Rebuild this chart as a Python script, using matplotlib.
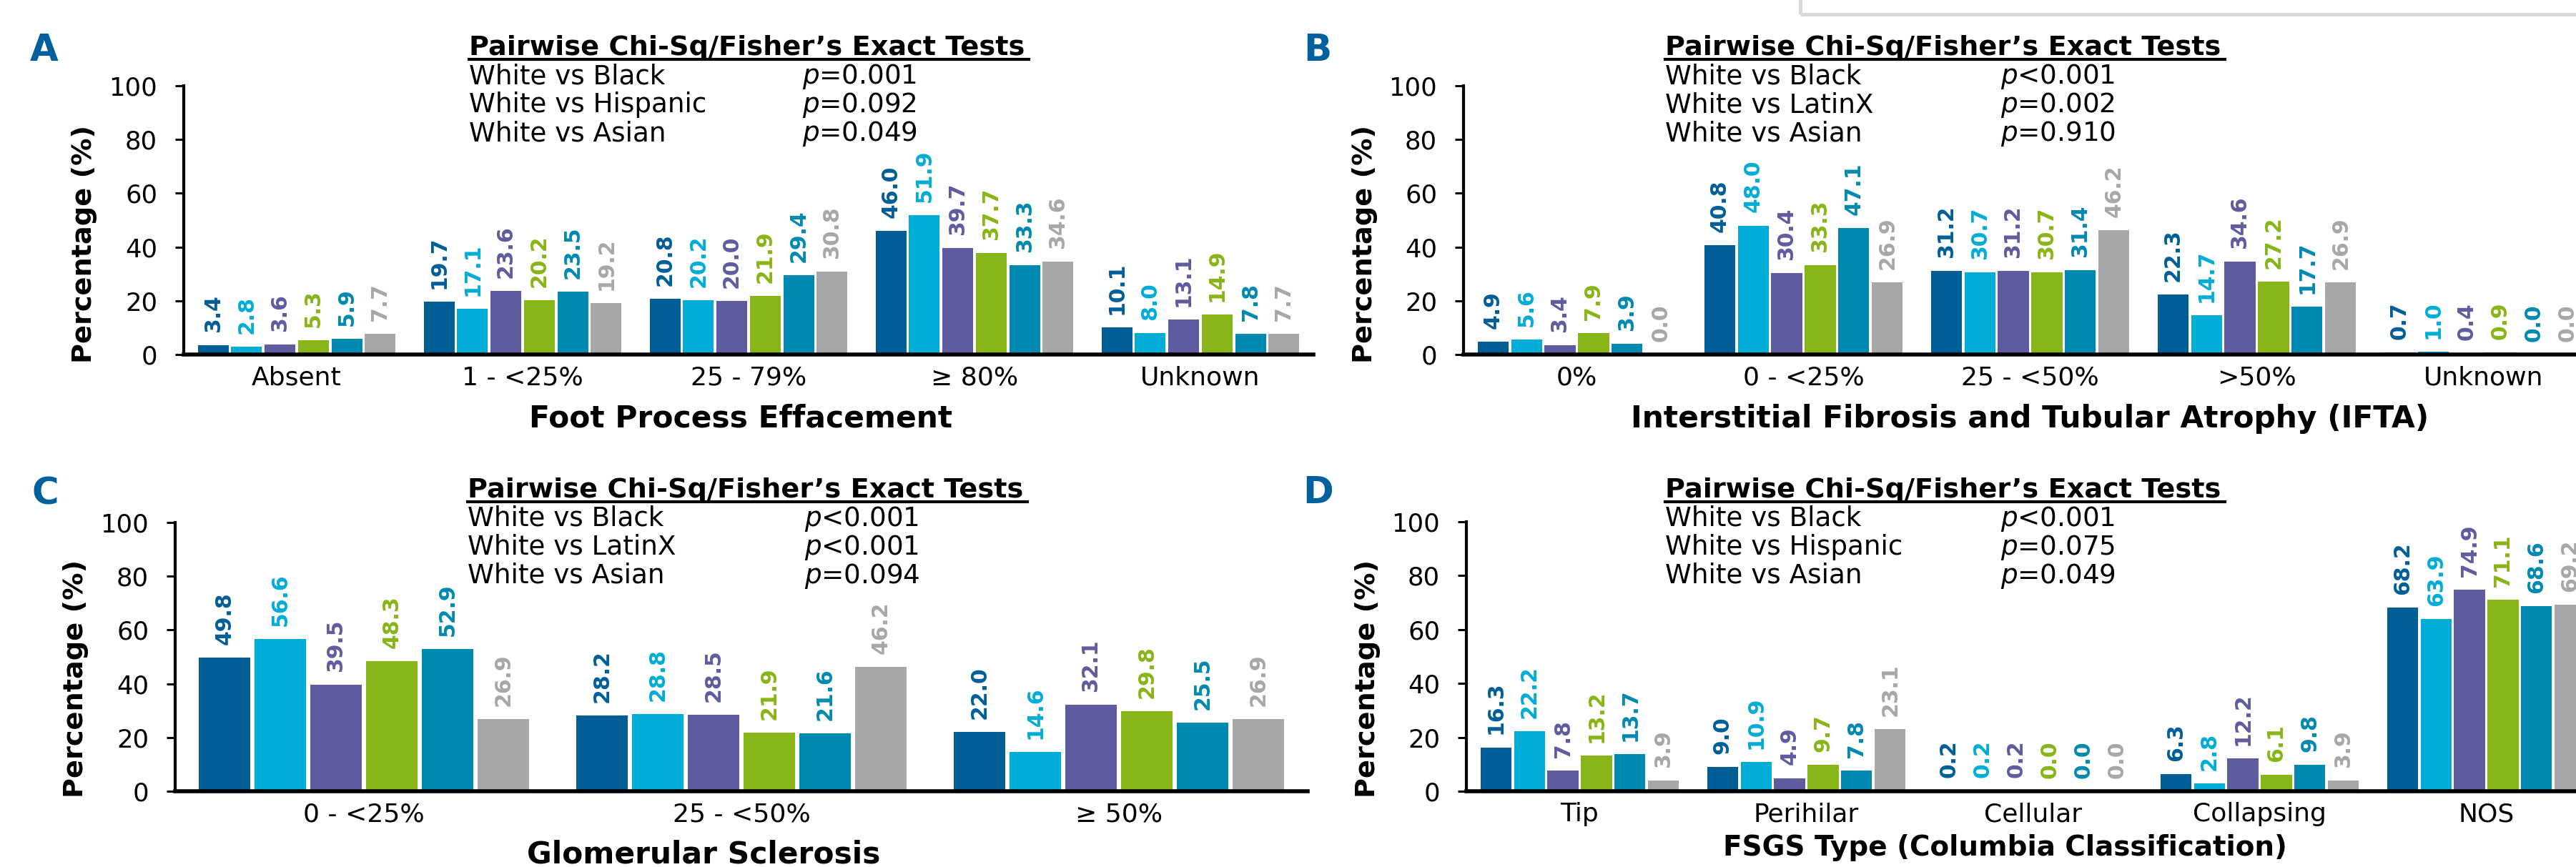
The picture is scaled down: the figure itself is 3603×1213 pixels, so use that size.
import numpy as np
import matplotlib
matplotlib.use('Agg')
import matplotlib.pyplot as plt
from matplotlib.patches import Rectangle
from matplotlib.lines import Line2D

plt.rcParams['font.family'] = ['DejaVu Sans']
plt.rcParams['mathtext.fontset'] = 'dejavusans'

# ---------------- data ----------------
series_names = ['White', 'Black', 'Hispanic/LatinX', 'Asian', 'Other', 'Unknown']
series_colors = ['#005E97', '#00ADD6', '#5F5B9F', '#88B517', '#0089B0', '#A6A7A9']

fpe_categories = ['Absent', '1 - <25%', '25 - 79%', '\u2265 80%', 'Unknown']
fpe_values = [
    [3.4, 2.8, 3.6, 5.3, 5.9, 7.7],
    [19.7, 17.1, 23.6, 20.2, 23.5, 19.2],
    [20.8, 20.2, 20.0, 21.9, 29.4, 30.8],
    [46.0, 51.9, 39.7, 37.7, 33.3, 34.6],
    [10.1, 8.0, 13.1, 14.9, 7.8, 7.7],
]
fpe_tests = ['White vs Black', 'White vs Hispanic', 'White vs Asian']
fpe_pvals = ['=0.001', '=0.092', '=0.049']

ifta_categories = ['0%', '0 - <25%', '25 - <50%', '>50%', 'Unknown']
ifta_values = [
    [4.9, 5.6, 3.4, 7.9, 3.9, 0.0],
    [40.8, 48.0, 30.4, 33.3, 47.1, 26.9],
    [31.2, 30.7, 31.2, 30.7, 31.4, 46.2],
    [22.3, 14.7, 34.6, 27.2, 17.7, 26.9],
    [0.7, 1.0, 0.4, 0.9, 0.0, 0.0],
]
ifta_tests = ['White vs Black', 'White vs LatinX', 'White vs Asian']
ifta_pvals = ['<0.001', '=0.002', '=0.910']

gs_categories = ['0 - <25%', '25 - <50%', '\u2265 50%']
gs_values = [
    [49.8, 56.6, 39.5, 48.3, 52.9, 26.9],
    [28.2, 28.8, 28.5, 21.9, 21.6, 46.2],
    [22.0, 14.6, 32.1, 29.8, 25.5, 26.9],
]
gs_tests = ['White vs Black', 'White vs LatinX', 'White vs Asian']
gs_pvals = ['<0.001', '<0.001', '=0.094']

fsgs_categories = ['Tip', 'Perihilar', 'Cellular', 'Collapsing', 'NOS']
fsgs_values = [
    [16.3, 22.2, 7.8, 13.2, 13.7, 3.9],
    [9.0, 10.9, 4.9, 9.7, 7.8, 23.1],
    [0.2, 0.2, 0.2, 0.0, 0.0, 0.0],
    [6.3, 2.8, 12.2, 6.1, 9.8, 3.9],
    [68.2, 63.9, 74.9, 71.1, 68.6, 69.2],
]
fsgs_tests = ['White vs Black', 'White vs Hispanic', 'White vs Asian']
fsgs_pvals = ['<0.001', '=0.075', '=0.049']

y_ticks = [0, 20, 40, 60, 80, 100]
y_label = 'Percentage (%)'
stats_title = 'Pairwise Chi-Sq/Fisher\u2019s Exact Tests'

# ---------------- layout ----------------
W, H = 3603, 1213
DPI = 100
fig = plt.figure(figsize=(W / DPI, H / DPI), dpi=DPI)

def fx(x):
    return x / W

def fy(y):
    return 1 - y / H

LETTER_COLOR = '#00609E'
SLOT = 0.148
BW = 0.136

panels = [
    dict(vals=fpe_values, cats=fpe_categories, xlabel='Foot Process Effacement', letter='A',
         left=257, top=120, bottom=496, pitch=316, lpos=(62, 71), xlpos=(1036, 586), xls=30.5,
         ylpos=(118, 341), tx=656, px=1122, ty=77, tests=fpe_tests, pv=fpe_pvals),
    dict(vals=ifta_values, cats=ifta_categories,
         xlabel='Interstitial Fibrosis and Tubular Atrophy (IFTA)', letter='B',
         left=2047, top=120, bottom=496, pitch=317, lpos=(1843, 71), xlpos=(2839, 586), xls=30.5,
         ylpos=(1909, 341), tx=2329, px=2798, ty=77, tests=ifta_tests, pv=ifta_pvals),
    dict(vals=gs_values, cats=gs_categories, xlabel='Glomerular Sclerosis', letter='C',
         left=245, top=731, bottom=1107, pitch=528, lpos=(63, 691), xlpos=(984, 1195), xls=30.5,
         ylpos=(106, 950), tx=654, px=1125, ty=696, tests=gs_tests, pv=gs_pvals),
    dict(vals=fsgs_values, cats=fsgs_categories, xlabel='FSGS Type (Columbia Classification)',
         letter='D', left=2051, top=730, bottom=1107, pitch=317, lpos=(1844, 690),
         xlpos=(2804, 1186), xls=28, ylpos=(1913, 950), tx=2329, px=2798, ty=696,
         tests=fsgs_tests, pv=fsgs_pvals),
]

title_texts = []
for p in panels:
    n = len(p['cats'])
    width_px = n * p['pitch']
    ax = fig.add_axes([fx(p['left']), fy(p['bottom']), width_px / W, (p['bottom'] - p['top']) / H])
    vals = np.array(p['vals'])
    base = np.arange(n)
    for i in range(len(series_names)):
        xs = base + (i - 2.5) * SLOT
        ax.bar(xs, vals[:, i], width=BW, color=series_colors[i], label=series_names[i], zorder=2)
        for x, v in zip(xs, vals[:, i]):
            ax.annotate(f'{v:.1f}', (x, v), xytext=(0, 13), textcoords='offset points',
                        rotation=90, ha='center', va='bottom', color=series_colors[i],
                        fontsize=21.5, fontweight='bold', annotation_clip=False)
    ax.set_xlim(-0.5, n - 0.5)
    ax.set_ylim(0, 100)
    ax.set_yticks(y_ticks)
    ax.set_xticks(base)
    ax.set_xticklabels(p['cats'])
    ax.tick_params(axis='y', length=8.5, width=2.2, direction='out', pad=18, labelsize=25.5)
    ax.tick_params(axis='x', length=0, pad=11, labelsize=26)
    for s in ('top', 'right'):
        ax.spines[s].set_visible(False)
    ax.spines['left'].set_linewidth(3)
    ax.spines['bottom'].set_linewidth(4)
    ax.spines['bottom'].set_zorder(3)

    fig.text(fx(p['lpos'][0]), fy(p['lpos'][1]), p['letter'], ha='center', va='center',
             fontsize=37, fontweight='bold', color=LETTER_COLOR)
    fig.text(fx(p['xlpos'][0]), fy(p['xlpos'][1]), p['xlabel'], ha='center', va='center',
             fontsize=p['xls'], fontweight='bold')
    fig.text(fx(p['ylpos'][0]), fy(p['ylpos'][1]), y_label, ha='center', va='center',
             rotation=90, fontsize=27.5, fontweight='bold')

    t = fig.text(fx(p['tx']), fy(p['ty']), stats_title, ha='left', va='baseline',
                 fontsize=27.5, fontweight='bold')
    title_texts.append((t, p['ty']))
    for k, (lab, pv) in enumerate(zip(p['tests'], p['pv'])):
        yb = p['ty'] + 40 * (k + 1)
        fig.text(fx(p['tx']), fy(yb), lab, ha='left', va='baseline', fontsize=26.8)
        fig.text(fx(p['px']), fy(yb), '$\\mathit{p}$' + pv, ha='left', va='baseline', fontsize=26.8)

# underline titles
fig.canvas.draw()
renderer = fig.canvas.get_renderer()
for t, ty in title_texts:
    bb = t.get_window_extent(renderer)
    x0, x1 = bb.x0 / W, (bb.x1 + 6) / W
    yline = fy(ty + 6)
    fig.add_artist(Line2D([x0, x1], [yline, yline], color='black', lw=3, transform=fig.transFigure))

# partially visible box at top right
fig.add_artist(Rectangle((fx(2518), fy(20)), 0.5, 0.2, transform=fig.transFigure,
                         fill=False, edgecolor='#D9D9D9', lw=3.6))

fig.savefig('out.png', dpi=DPI)
